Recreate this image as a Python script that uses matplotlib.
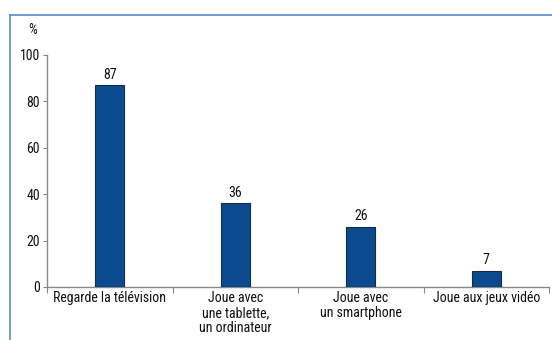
import matplotlib
matplotlib.use("Agg")
import matplotlib.pyplot as plt
from matplotlib.lines import Line2D
from matplotlib import font_manager

categories = ["Regarde la télévision",
              "Joue avec\nune tablette,\nun ordinateur",
              "Joue avec\nun smartphone",
              "Joue aux jeux vidéo"]
values = [87, 36, 26, 7]
yticks = [0, 20, 40, 60, 80, 100]

names = {f.name for f in font_manager.fontManager.ttflist}
family = [n for n in ["Liberation Sans Narrow", "Roboto Condensed", "Open Sans Condensed"] if n in names] + ["DejaVu Sans"]
plt.rcParams["font.family"] = family

fs = 10
txt_color = "#111111"

fig = plt.figure(figsize=(5.52, 3.4), dpi=100)
ax = fig.add_axes([47 / 552, 53 / 340, 502 / 552, 232 / 340])

x = list(range(len(categories)))
ax.bar(x, values, width=0.23, color="#0b4a8e", edgecolor="#1a2a44", linewidth=0.8, zorder=3)
for xi, v in zip(x, values):
    ax.annotate(str(v), (xi, v), xytext=(0, 2.5), textcoords="offset points",
                ha="center", va="bottom", fontsize=fs, color=txt_color)

ax.set_xlim(-0.5, len(categories) - 0.5)
ax.set_ylim(0, 100)
ax.set_yticks(yticks)
ax.set_yticklabels([str(t) for t in yticks], fontsize=fs, color=txt_color)
ax.tick_params(axis="y", length=3, width=0.8, color="#888888", pad=2)

ax.set_xticks([i - 0.5 for i in range(len(categories) + 1)])
ax.set_xticklabels([])
ax.set_xticks(x, minor=True)
ax.set_xticklabels(categories, minor=True, fontsize=fs, color=txt_color, linespacing=1.1)
ax.tick_params(axis="x", which="major", length=4, width=0.8, color="#888888", direction="out")
ax.tick_params(axis="x", which="minor", length=0, pad=3)

for s in ["top", "right"]:
    ax.spines[s].set_visible(False)
for s in ["left", "bottom"]:
    ax.spines[s].set_color("#888888")
    ax.spines[s].set_linewidth(1.0)
ax.spines["left"].set_bounds(0, 100)

# unit label above the value axis
ax.text(-14 / 502, 257 / 232, "%", transform=ax.transAxes, fontsize=fs,
        ha="center", va="center", color=txt_color)

# frame around the figure
frame_color = "#5b8ad0"
fig.add_artist(Line2D([10 / 552, 1.0], [1 - 15 / 340, 1 - 15 / 340], color=frame_color, lw=1.2))
fig.add_artist(Line2D([10 / 552, 10 / 552], [0, 1 - 15 / 340], color=frame_color, lw=1.2))

fig.savefig("out.png", dpi=100)
